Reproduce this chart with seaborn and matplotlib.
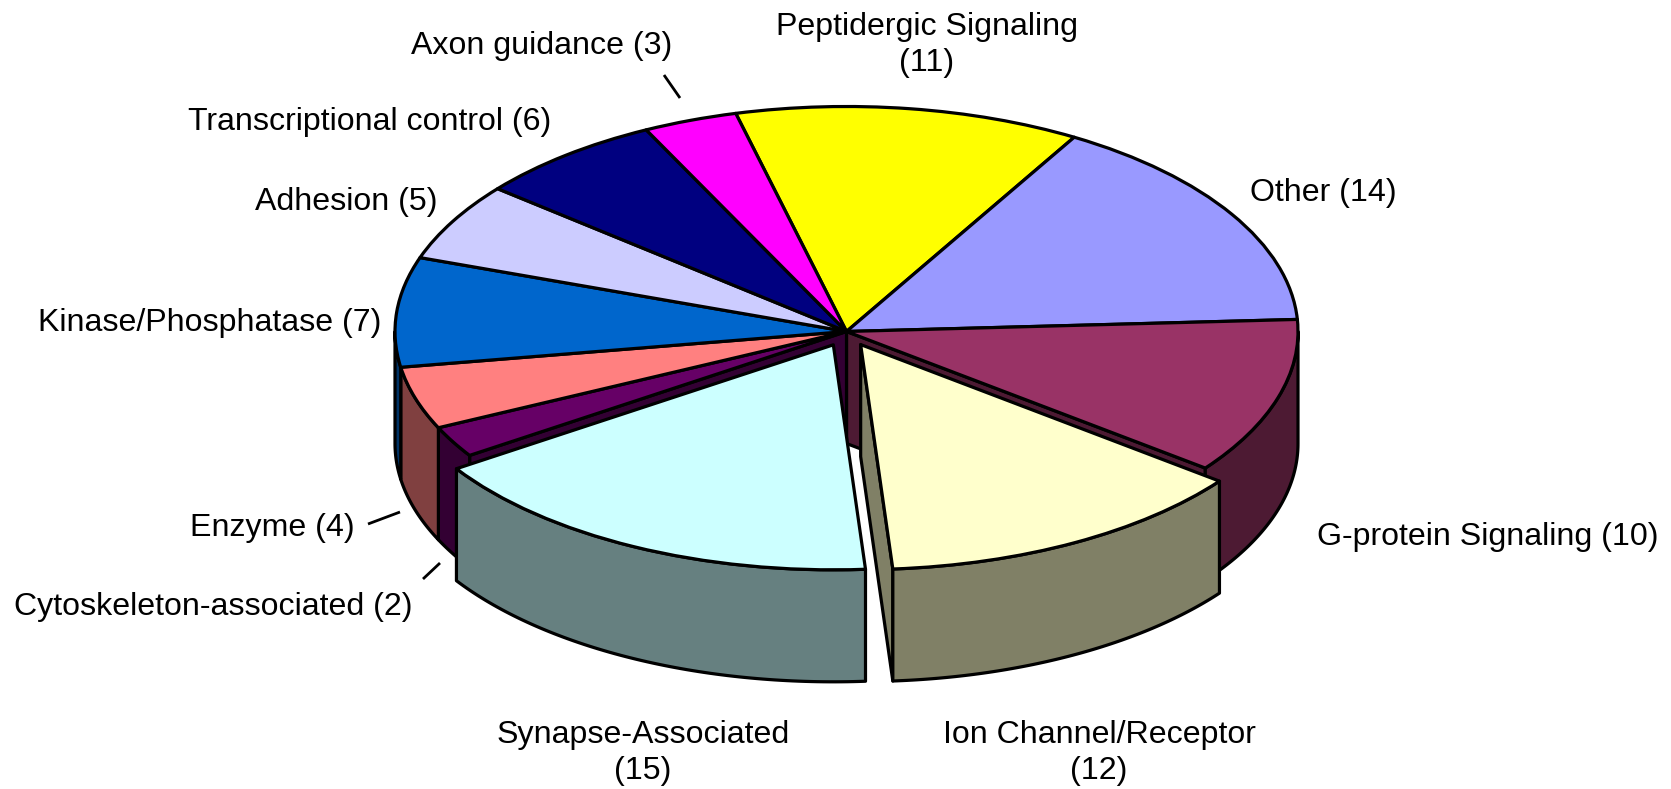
import numpy as np
import pandas as pd
import seaborn as sns
import matplotlib
matplotlib.use("Agg")
import matplotlib.pyplot as plt
from matplotlib.patches import Polygon

categories = ["Peptidergic Signaling", "Other", "G-protein Signaling", "Ion Channel/Receptor",
              "Synapse-Associated", "Cytoskeleton-associated", "Enzyme", "Kinase/Phosphatase",
              "Adhesion", "Transcriptional control", "Axon guidance"]
counts = [11, 14, 10, 12, 15, 2, 4, 7, 5, 6, 3]
exploded = [0, 0, 0, 1, 1, 0, 0, 0, 0, 0, 0]
top_colors = ["#FFFF00", "#9999FF", "#993366", "#FFFFCC", "#CCFFFF", "#660066",
              "#FF8080", "#0066CC", "#CCCCFF", "#000080", "#FF00FF"]
two_line = [1, 0, 0, 1, 1, 0, 0, 0, 0, 0, 0]
label_xy = [(927, 45), (1323, 193), (1488, 537), (1099, 753), (643, 753), (213, 607),
            (272, 528), (210, 323), (346, 202), (370, 122), (542, 46)]
leaders = [((664, 75), (680, 98)), ((368, 524), (400, 512)), ((423, 579), (440, 563))]

W, H = 1671, 789
CX, CY, RX, RY, DEPTH = 846.5, 331.5, 451.5, 225, 112
LW = 2.3

df = pd.DataFrame({"category": categories, "count": counts, "explode": exploded,
                   "color": top_colors, "two_line": two_line})

sns.set_theme(style="white", rc={"font.family": ["Liberation Sans", "DejaVu Sans"]})
plt.rcParams["font.family"] = ["Liberation Sans", "DejaVu Sans"]

fig = plt.figure(figsize=(W / 100, H / 100), dpi=100, facecolor="white")
ax = fig.add_axes([0, 0, 1, 1])

wedges, _ = ax.pie(df["count"], colors=sns.color_palette(top_colors, len(top_colors)),
                   startangle=104.2, counterclock=False,
                   explode=0.066 * df["explode"].to_numpy(),
                   wedgeprops=dict(edgecolor="black", linewidth=LW, joinstyle="round"))

# pixel-to-data mapping: 1 data unit = RX px across, RY px up
ax.set_aspect("auto")
ax.set_xlim(-CX / RX, (W - CX) / RX)
ax.set_ylim(-(H - CY) / RY, CY / RY)
ax.set_frame_on(False)
d = DEPTH / RY


def dark(c):
    return tuple(0.5 * v for v in matplotlib.colors.to_rgb(c))


def wall(points, color, z):
    top = np.asarray(points, float)
    bottom = top[::-1] - [0, d]
    ax.add_patch(Polygon(np.vstack([top, bottom]), closed=True, facecolor=dark(color),
                         edgecolor="black", linewidth=LW, joinstyle="round", zorder=z))


def point(w, t):
    a = np.radians(t)
    return w.center[0] + np.cos(a), w.center[1] + np.sin(a)


n = len(wedges)
for i, w in enumerate(wedges):
    is_exp = bool(exploded[i])
    base = 10 if is_exp else 1
    if exploded[i] and i == 4:
        base = 20
    color = top_colors[i]
    # radial side faces
    prev_exp, next_exp = exploded[(i - 1) % n], exploded[(i + 1) % n]
    t1, t2 = w.theta1, w.theta2   # t2 borders the previous slice, t1 the next one
    show_t2 = np.cos(np.radians(t2)) < 0 and (is_exp or prev_exp)
    show_t1 = np.cos(np.radians(t1)) > 0 and (is_exp or next_exp)
    if show_t2:
        wall([w.center, point(w, t2)], color, base)
    if show_t1:
        wall([w.center, point(w, t1)], color, base)
    # outer rim face, front half only
    lo, hi = max(t1, -180), min(t2, 0)
    if hi > lo:
        ts = np.linspace(lo, hi, 80)
        wall([point(w, t) for t in ts], color, base + 1)
    w.set_zorder(base + 2)

for i, (x, y) in enumerate(label_xy):
    sep = "\n" if two_line[i] else " "
    ax.text((x - CX) / RX, (CY - y) / RY, f"{categories[i]}{sep}({counts[i]})",
            ha="center", va="center", fontsize=23.1, color="black", linespacing=1.3, zorder=30)

for (x0, y0), (x1, y1) in leaders:
    ax.plot([(x0 - CX) / RX, (x1 - CX) / RX], [(CY - y0) / RY, (CY - y1) / RY],
            color="black", lw=2.0, zorder=30, solid_capstyle="butt")

fig.savefig("out.png", dpi=100, facecolor="white")
